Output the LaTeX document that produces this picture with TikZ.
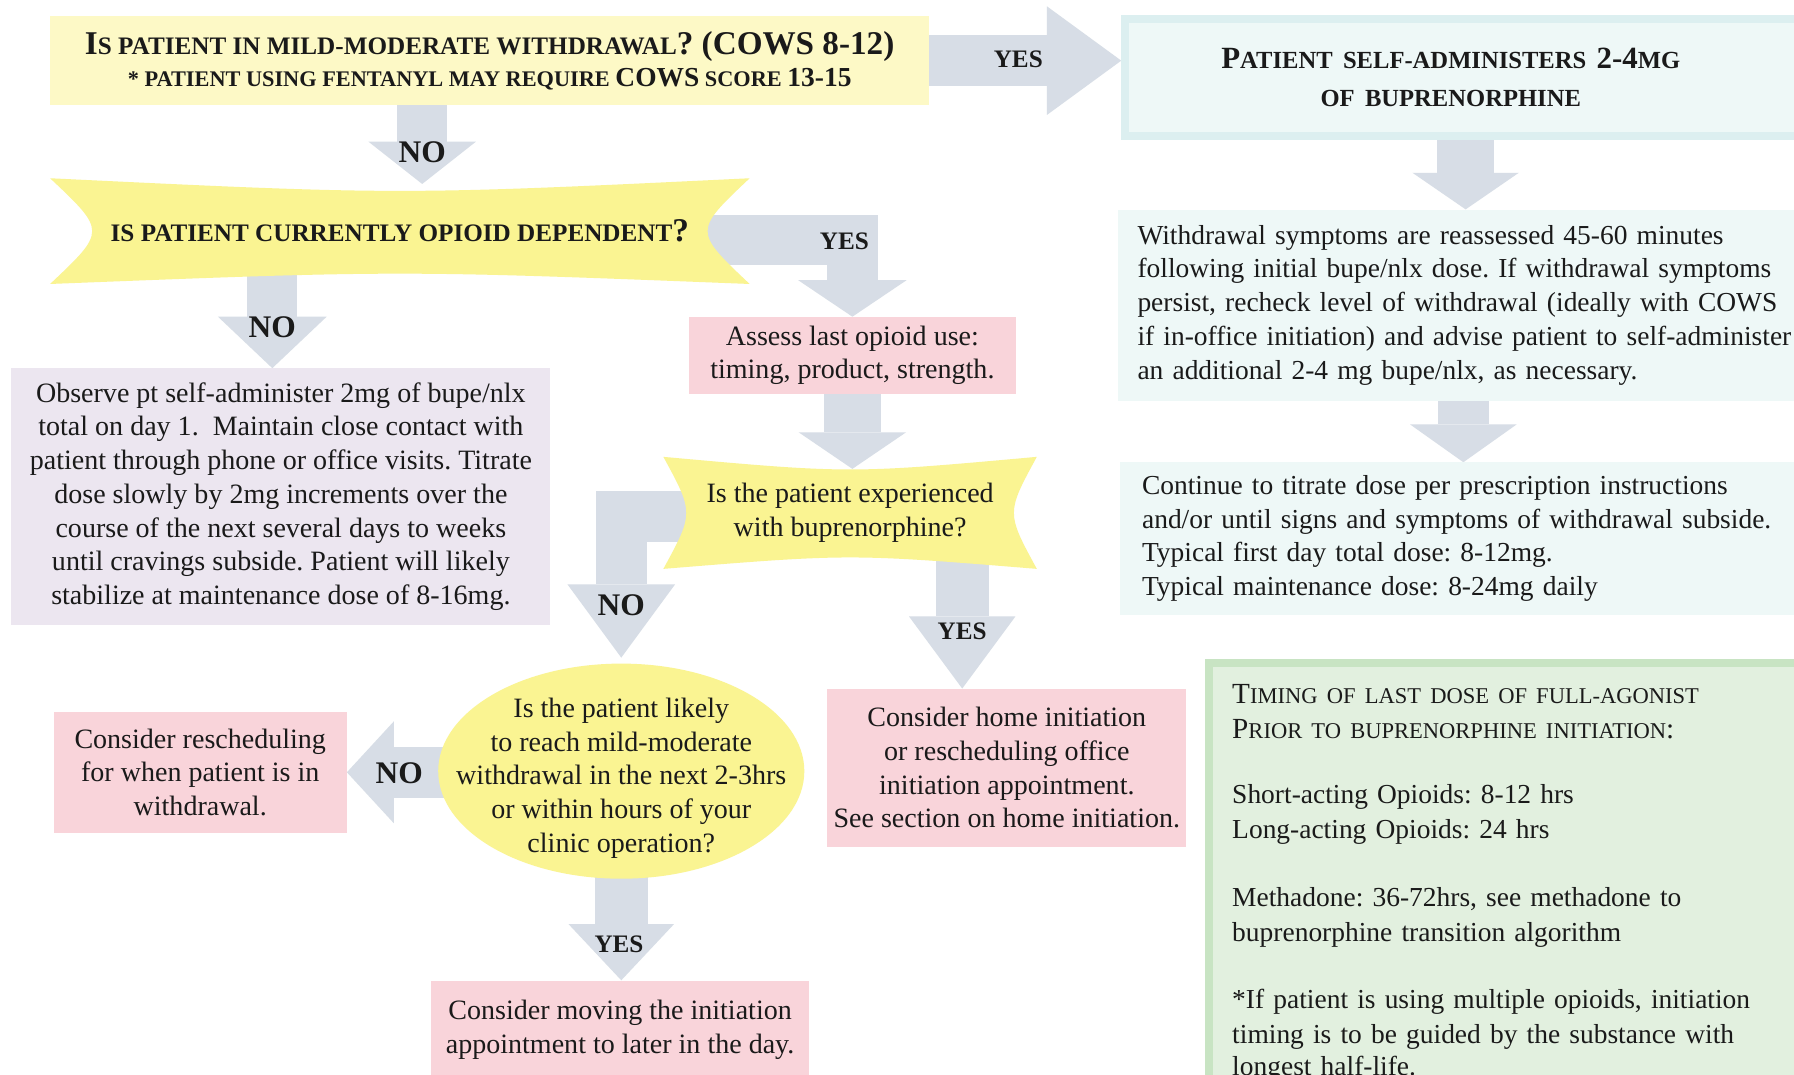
\documentclass[tikz,border=0pt]{standalone}
\usepackage{fontspec}
\setmainfont{Liberation Serif}
\usetikzlibrary{arrows.meta,calc,shapes.geometric}
\definecolor{arr}{HTML}{D7DDE6}
\definecolor{ylt}{HTML}{FDF9C6}
\definecolor{ybr}{HTML}{FAF492}
\definecolor{pnk}{HTML}{F9D4DA}
\definecolor{lav}{HTML}{ECE6F0}
\definecolor{cyf}{HTML}{EEF8F7}
\definecolor{cyb}{HTML}{DCEFF0}
\definecolor{grf}{HTML}{E2F0DF}
\definecolor{grb}{HTML}{C8E4C3}
\definecolor{txt}{HTML}{1A1A1A}
\newcommand\fsc[2]{{\fontsize{#1}{29.5}\selectfont #2}}
\pgfdeclarelayer{bgwhite}
\pgfdeclarelayer{arrowlayer}
\pgfsetlayers{bgwhite,arrowlayer,main}
\frenchspacing
\begin{document}
\begin{tikzpicture}[x=1pt,y=-1pt,
 body/.style={font=\fontsize{24.5}{29.5}\selectfont, text=txt, align=center, inner sep=0pt},
 rbody/.style={body, font=\fontsize{24}{29.5}\selectfont},
 pinkbox/.style={body, fill=pnk},
 barrow/.style n args={3}{draw=arr, line width=#1, line join=miter,
   -{Triangle[length=#2,width=#3,line width=0pt]}},
 yn/.style={font=\bfseries\fontsize{27.5}{27.5}\selectfont, text=txt, inner sep=0pt},
 ys/.style={font=\bfseries\fontsize{22}{22}\selectfont, text=txt, inner sep=0pt},
]
\useasboundingbox (0,0) rectangle (1568,939);
\begin{pgfonlayer}{bgwhite}
\fill[white] (0,0) rectangle (1568,939);
\end{pgfonlayer}

% ---------- nodes ----------
\node[body, font=\bfseries\fontsize{29}{28}\selectfont, fill=ylt,
  minimum width=768pt, minimum height=78pt] (q1) at (428,53)
 {I\fsc{22}{S PATIENT IN MILD-MODERATE WITHDRAWAL}? (COWS 8-12)\\
  \fsc{19.5}{* PATIENT USING FENTANYL MAY REQUIRE }\fsc{24}{COWS}\fsc{19.5}{ SCORE }\fsc{24}{13-15}};

\node[body, font=\bfseries\fontsize{27}{33}\selectfont, fill=cyf, draw=cyb, line width=7pt,
  anchor=north west, text width=640pt, align=left, minimum height=102pt] (r1) at (980,13)
 {\makebox[569pt][c]{P\fsc{21.5}{ATIENT SELF-ADMINISTERS }2-4\fsc{21.5}{MG}}\\
  \makebox[569pt][c]{\fsc{21.5}{OF BUPRENORPHINE}}};

\node[body, font=\bfseries\fontsize{22}{24}\selectfont,
  minimum width=611pt, minimum height=92pt] (q2) at (349.5,202)
 {IS PATIENT CURRENTLY OPIOID DEPENDENT\fsc{29}{?}};

\node[body, fill=lav, minimum width=471pt, minimum height=224pt] (obs) at (245.5,434)
 {Observe pt self-administer 2mg of bupe/nlx\\
  total on day 1.\ \ Maintain close contact with\\
  patient through phone or office visits. Titrate\\
  dose slowly by 2mg increments over the\\
  course of the next several days to weeks\\
  until cravings subside. Patient will likely\\
  stabilize at maintenance dose of 8-16mg.};

\node[pinkbox, minimum width=286pt, minimum height=67pt] (ass) at (745,310.5)
 {Assess last opioid use:\\timing, product, strength.};

\node[body, minimum width=326pt, minimum height=97.5pt] (q3) at (743,448.25)
 {Is the patient experienced\\with buprenorphine?};

\node[ellipse, fill=ybr, minimum width=320pt, minimum height=188pt, inner sep=0pt] (ell) at (543,674) {};
\node[body] (ellt) at (543,680)
 {Is the patient likely\\to reach mild-moderate\\withdrawal in the next 2-3hrs\\or within hours of your\\clinic operation?};

\node[pinkbox, minimum width=314pt, minimum height=138pt] (home) at (880,671)
 {Consider home initiation\\or rescheduling office\\initiation appointment.\\See section on home initiation.};

\node[pinkbox, minimum width=256pt, minimum height=106pt] (res) at (175,675)
 {Consider rescheduling\\for when patient is in\\withdrawal.};

\node[pinkbox, minimum width=330pt, minimum height=86pt] (mov) at (542,900)
 {Consider moving the initiation\\appointment to later in the day.};

\node[rbody, fill=cyf, anchor=north west, text width=640pt, align=left,
  inner xsep=17pt, minimum height=167pt] (w) at (977,183)
 {Withdrawal symptoms are reassessed 45-60 minutes\\
  following initial bupe/nlx dose. If withdrawal symptoms\\
  persist, recheck level of withdrawal (ideally with COWS\\
  if in-office initiation) and advise patient to self-administer\\
  an additional 2-4 mg bupe/nlx, as necessary.};

\node[rbody, fill=cyf, anchor=north west, text width=640pt, align=left,
  inner xsep=19pt, minimum height=133pt] (c) at (979,404)
 {Continue to titrate dose per prescription instructions\\
  and/or until signs and symptoms of withdrawal subside.\\
  Typical first day total dose: 8-12mg.\\
  Typical maintenance dose: 8-24mg daily};

\node[rbody, font=\fontsize{24}{30}\selectfont, fill=grf, draw=grb, line width=7pt, anchor=north west, text width=600pt,
  align=left, inner xsep=20.5pt, inner ysep=19pt] (g) at (1053,576)
 {\fsc{25.5}{T}\fsc{19.7}{IMING OF LAST DOSE OF FULL-AGONIST}\\
  \fsc{25.5}{P}\fsc{19.7}{RIOR TO BUPRENORPHINE INITIATION}\fsc{25.5}{:}\\[27.5pt]
  Short-acting Opioids: 8-12 hrs\\
  Long-acting Opioids: 24 hrs\\[30pt]
  Methadone: 36-72hrs, see methadone to\\
  buprenorphine transition algorithm\\[29pt]
  *If patient is using multiple opioids, initiation\\
  timing is to be guided by the substance with\\[-2pt]
  longest half-life.};

% ---------- connectors and banners ----------
\begin{pgfonlayer}{arrowlayer}
\draw[barrow={45pt}{65pt}{95pt}] (q1.east) -- (q1.east -| r1.west);
\draw[barrow={44pt}{37pt}{94pt}] ([xshift=-59pt]q1.south) -- ([xshift=-59pt,yshift=-5pt]q1.south |- q2.north);
\draw[barrow={44pt}{32pt}{95pt}] ([xshift=-40pt,yshift=-8pt]q2.east) -| (ass.north);
\draw[barrow={44pt}{45pt}{95pt}] ([xshift=-111.5pt,yshift=12pt]q2.south) -- ([xshift=-111.5pt]q2.south |- obs.north);
\draw[barrow={50pt}{32pt}{94pt}] (ass.south) -- ([yshift=-10.5pt]ass.south |- q3.north);
\draw[barrow={45pt}{64pt}{94pt}] ([xshift=30pt,yshift=-3pt]q3.west) -| ([yshift=5pt]ell.north);
\draw[barrow={46pt}{63pt}{93pt}] ([xshift=-39pt,yshift=12pt]home.north |- q3.south) -- ([xshift=-39pt]home.north);
\draw[barrow={45pt}{41pt}{89pt}] ([xshift=20pt]res.east -| ell.west) -- (res.east);
\draw[barrow={46pt}{49pt}{92pt}] ([yshift=5pt]ell.south) -- (ell.south |- mov.north);
\draw[barrow={50pt}{32pt}{93pt}] ([xshift=301pt]r1.south west) -- ([xshift=301pt]r1.south west |- w.north);
\draw[barrow={45pt}{33pt}{93pt}] ([xshift=299pt]r1.south west |- w.south) -- ([xshift=299pt]r1.south west |- c.north);

\fill[ybr] (q2.north west) .. controls ($(q2.north)+(0,14.7)$) .. (q2.north east)
  .. controls ($(q2.east)+(-49,0)$) .. (q2.south east)
  .. controls ($(q2.south)+(0,-12)$) .. (q2.south west)
  .. controls ($(q2.west)+(49,0)$) .. cycle;
\fill[ybr] (q3.north west) .. controls ($(q3.north)+(0,14.7)$) .. (q3.north east)
  .. controls ($(q3.east)+(-26.7,0)$) .. (q3.south east)
  .. controls ($(q3.south)+(0,-13.3)$) .. (q3.south west)
  .. controls ($(q3.west)+(26.7,0)$) .. cycle;
\end{pgfonlayer}

% ---------- labels ----------
\node[ys] (l1) at (890,52) {YES};
\node[yn] (l2) at (369,133) {NO};
\node[ys] (l3) at (738,211) {YES};
\node[yn] (l4) at (238,286) {NO};
\node[yn] (l5) at (543,529) {NO};
\node[ys] (l6) at (841,552) {YES};
\node[yn] (l7) at (349,676) {NO};
\node[ys] (l8) at (541,825) {YES};
\end{tikzpicture}
\end{document}
